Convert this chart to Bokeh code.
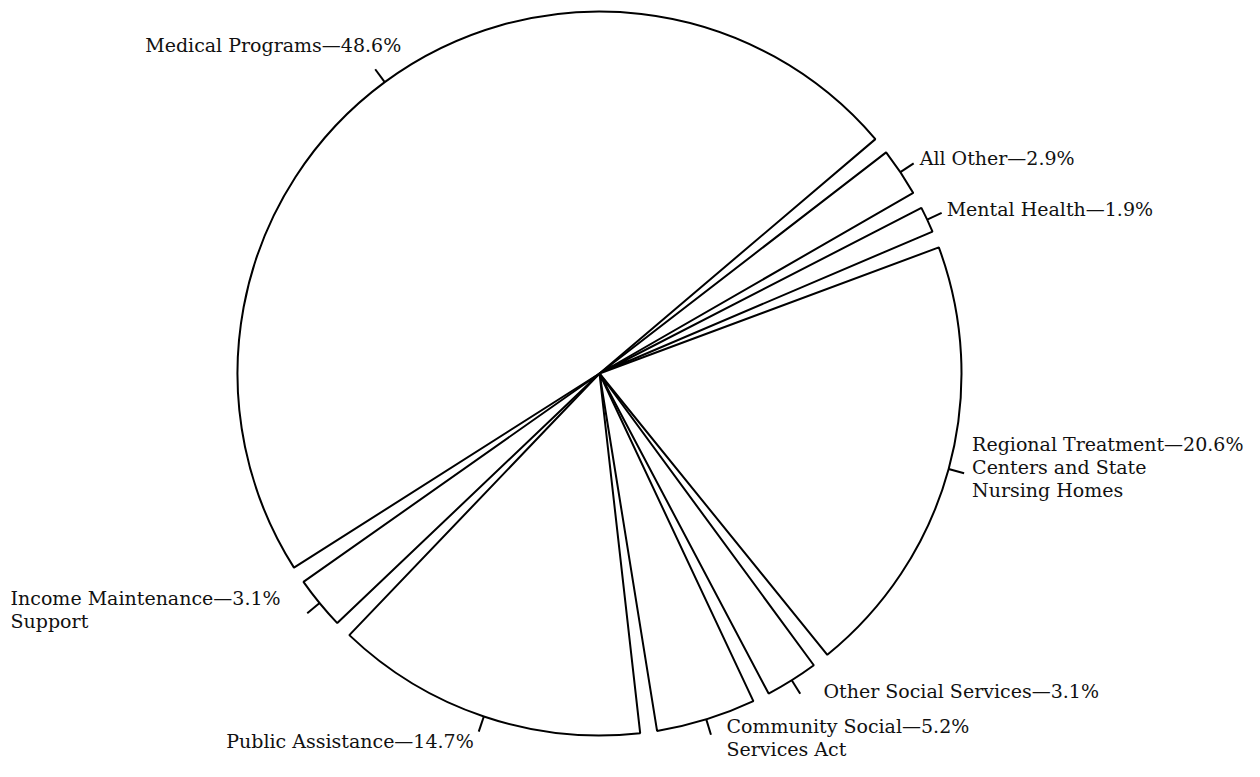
import numpy as np
from bokeh.plotting import figure
from bokeh.models import Range1d, ColumnDataSource
from bokeh.core.properties import value
from bokeh.embed import file_html
from bokeh.resources import INLINE

# ---------------- data ----------------
categories = [
    "Medical Programs",
    "All Other",
    "Mental Health",
    "Regional Treatment Centers and State Nursing Homes",
    "Other Social Services",
    "Community Social Services Act",
    "Public Assistance",
    "Income Maintenance Support",
]
shares = [48.6, 2.9, 1.9, 20.6, 3.1, 5.2, 14.7, 3.1]

# how each category name is broken over lines in the label
name_lines = [
    ["Medical Programs"],
    ["All Other"],
    ["Mental Health"],
    ["Regional Treatment", "Centers and State", "Nursing Homes"],
    ["Other Social Services"],
    ["Community Social", "Services Act"],
    ["Public Assistance"],
    ["Income Maintenance", "Support"],
]

# ---------------- layout / style ----------------
W, H = 1244, 761
CX, CY = 599.0, -373.0      # pie centre (data units = pixels, y up)
R = 362.0                   # radius
START_DEG = 39.0            # clockwise edge of the first slice
GAP_DEG = 2.7               # angular gap between slices
TICK = 16.0                 # leader tick length
LINE_H = 23.0               # label line spacing
TEXT_SHIFT = 7.0            # compensates the renderer's baseline offset
FONT = "DejaVu Serif"
FSIZE = "19px"
# (dx, dy in screen px from tick end to first baseline, alignment)
label_offsets = [
    (26.0, -17.5, "right"),
    (6.0, 2.0, "left"),
    (5.0, 2.8, "left"),
    (8.0, -22.2, "left"),
    (23.2, 4.7, "left"),
    (15.5, -1.5, "left"),
    (-5.0, 16.0, "right"),
    (-296.7, -8.6, "left"),
]

vals = np.array(shares, dtype=float)
deg = vals / vals.sum() * 360.0
ccw_edge = START_DEG + deg[0] - np.concatenate([[0.0], np.cumsum(deg)[:-1]])
cw_edge = ccw_edge - deg
start = np.radians(cw_edge + GAP_DEG / 2)
end = np.radians(ccw_edge - GAP_DEG / 2)
mid = np.radians((ccw_edge + cw_edge) / 2)

wsrc = ColumnDataSource(dict(
    x=[CX] * len(vals), y=[CY] * len(vals),
    start=start, end=end, cat=categories,
))

x0 = CX + R * np.cos(mid)
y0 = CY + R * np.sin(mid)
x1 = CX + (R + TICK) * np.cos(mid)
y1 = CY + (R + TICK) * np.sin(mid)

left = dict(x=[], y=[], text=[])
right = dict(x=[], y=[], text=[])
for i, lines in enumerate(name_lines):
    dx, dy, align = label_offsets[i]
    tgt = left if align == "left" else right
    for k, ln in enumerate(lines):
        txt = ln + "\u2014" + f"{shares[i]:.1f}%" if k == 0 else ln
        tgt["x"].append(x1[i] + dx)
        tgt["y"].append(y1[i] - dy - k * LINE_H + TEXT_SHIFT)
        tgt["text"].append(txt)

p = figure(width=W, height=H,
           x_range=Range1d(0, W), y_range=Range1d(-H, 0),
           output_backend="svg", toolbar_location=None,
           x_axis_location=None, y_axis_location=None,
           min_border=0)
p.grid.visible = False
p.outline_line_color = None
p.background_fill_color = "white"
p.border_fill_color = "white"

p.wedge(x="x", y="y", radius=R, start_angle="start", end_angle="end",
        source=wsrc, fill_color="white", line_color="black", line_width=2)

p.segment(x0=x0, y0=y0, x1=x1, y1=y1, line_color="black", line_width=2)

p.text(x="x", y="y", text="text", source=ColumnDataSource(left),
       text_font=value(FONT), text_font_size=FSIZE, text_color="#111111",
       text_align="left", text_baseline="alphabetic")
p.text(x="x", y="y", text="text", source=ColumnDataSource(right),
       text_font=value(FONT), text_font_size=FSIZE, text_color="#111111",
       text_align="right", text_baseline="alphabetic")

open("out.html", "w").write(file_html(p, INLINE))
